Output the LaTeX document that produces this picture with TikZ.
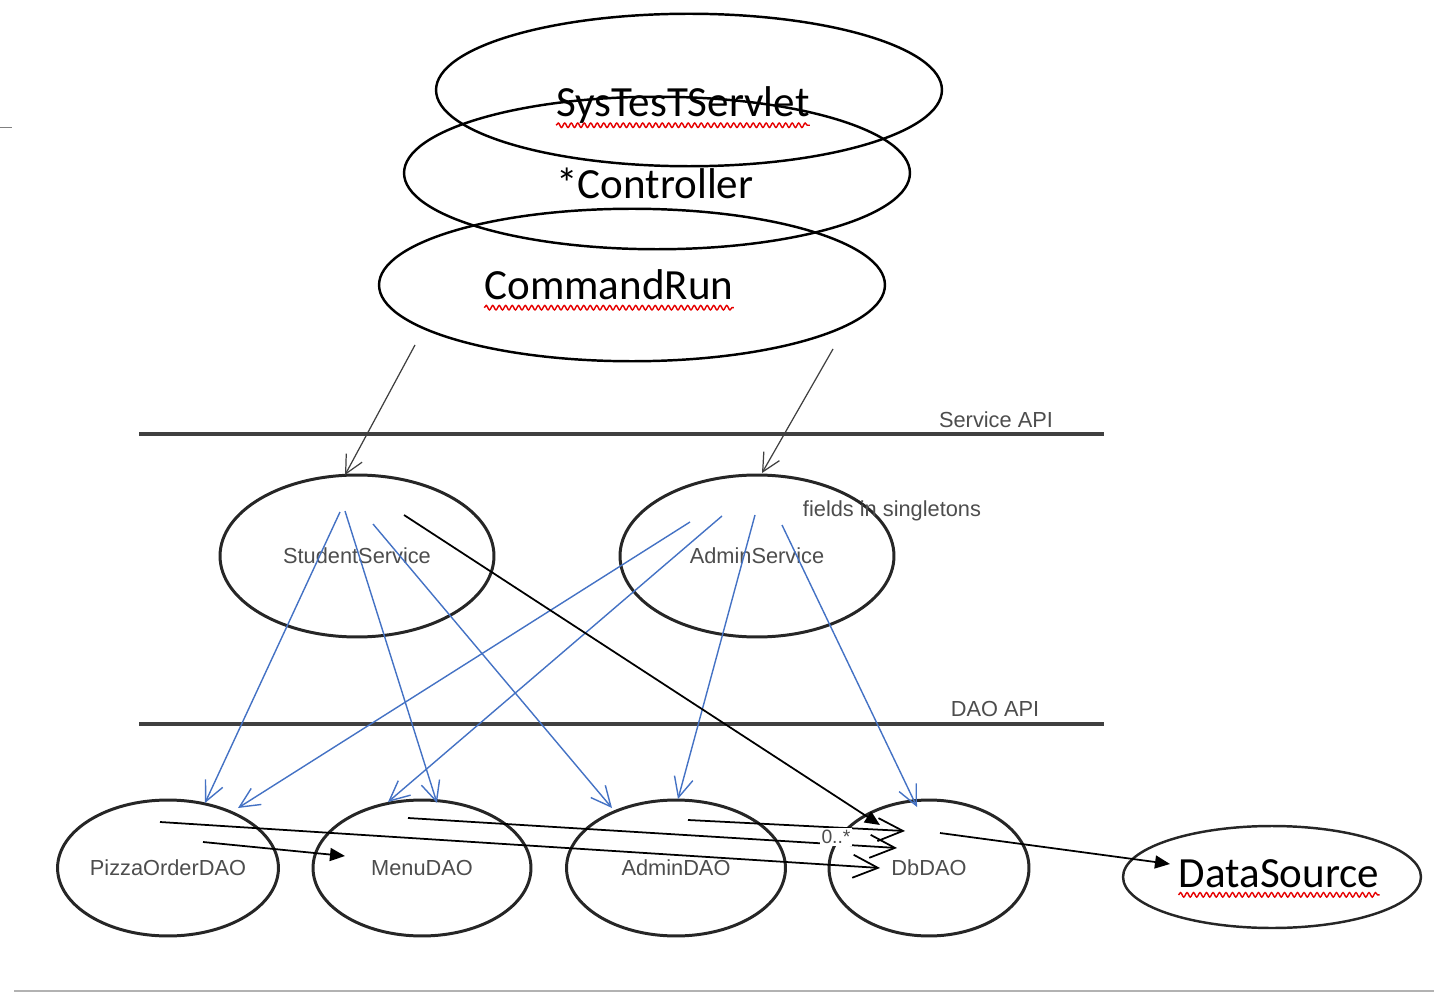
\documentclass[tikz,border=0pt]{standalone}
\usepackage{fontspec}
\setmainfont{Carlito}
\newfontfamily\arialfont{Liberation Sans}
\usetikzlibrary{shapes.geometric,arrows.meta,calc,decorations.pathmorphing}
\definecolor{umlblue}{HTML}{4472C4}
\definecolor{labelgray}{HTML}{4D4D4D}

\begin{document}
\begin{tikzpicture}[x=0.02cm, y=-0.02cm,
  every node/.style={inner sep=0pt},
  bigoval/.style={ellipse, draw, line width=1.4pt, minimum width=10.12cm, minimum height=3.05cm},
  oval/.style={ellipse, draw, line width=1.7pt, black!85},
  daooval/.style={oval, minimum width=4.4cm, minimum height=2.72cm, smalltext},
  bigtext/.style={font=\fontsize{24.5}{29}\selectfont},
  smalltext/.style={font=\arialfont\fontsize{12.4}{15}\selectfont, text=labelgray},
  apiline/.style={line width=2.2pt, black!75},
  callarrow/.style={-{Straight Barb[length=3.6mm, width=3.6mm]}, line width=0.7pt, black!75},
  blueedge/.style={-{Straight Barb[length=4mm, width=3.8mm]}, line width=0.8pt, umlblue},
  solidarrow/.style={-{Triangle[length=3mm, width=2.6mm]}, line width=1pt},
  manyarrow/.style={-{Straight Barb[length=5mm, width=4.6mm]}, line width=1pt},
  squiggle/.style={red!90!black, line width=0.8pt, decorate, decoration={snake, amplitude=0.45mm, segment length=1.3mm}}]
\useasboundingbox (0,0) rectangle (1434,993);
\node[bigoval] (servlet) at (689,90) {};
\node[bigoval] (ctrl) at (657,173) {};
\node[bigoval] (cmdrun) at (632,285) {};
\node[bigtext] (servletT) at (683,105) {SysTesTServlet};
\node[bigtext] (ctrlT) at (655,183) {*Controller};
\node[bigtext] (cmdrunT) at (609,285) {CommandRun};
\draw[squiggle] ([yshift=-5pt]servletT.base west) -- ([yshift=-5pt]servletT.base east);
\draw[squiggle] ([yshift=-4.5pt]cmdrunT.base west) -- ([yshift=-4.5pt]cmdrunT.base east);
\coordinate (sapiL) at (139,434);
\coordinate (sapiR) at (1104,434);
\coordinate (dapiL) at (139,724);
\coordinate (dapiR) at (1104,724);
\draw[apiline] (sapiL) -- (sapiR);
\draw[apiline] (dapiL) -- (dapiR);
\node[smalltext] (sapiT) at (996,420) {Service API};
\node[smalltext] (dapiT) at (995,709) {DAO API};
\node[oval, minimum width=5.48cm, minimum height=3.24cm, smalltext] (student) at (357,556) {StudentService};
\node[oval, minimum width=5.48cm, minimum height=3.24cm, smalltext] (admin) at (757,556) {AdminService};
\node[smalltext] (fields) at (892,511) {fields in singletons};
\node[daooval] (pizza) at (168,868) {PizzaOrderDAO};
\node[daooval, minimum width=4.36cm] (menu) at (422,868) {MenuDAO};
\node[daooval, minimum width=4.38cm] (admindao) at (676,868) {AdminDAO};
\node[daooval, minimum width=4cm] (dbdao) at (929,868) {DbDAO};
\node[oval, line width=1.4pt, minimum width=5.96cm, minimum height=2.04cm] (source) at (1272,877) {};
\node[bigtext] (sourceT) at (1279,874) {DataSource};
\draw[squiggle] ([yshift=-4pt]sourceT.base west) -- ([yshift=-4pt]sourceT.base east);
\draw[callarrow] ($(cmdrun)+(-217,60)$) -- ($(student)+(-12,-81)$);
\draw[callarrow] ($(cmdrun)+(201,64)$) -- ($(admin)+(5,-83)$);
\draw[blueedge] ($(student)+(-17,-44)$) -- ($(pizza)+(37,-65)$);
\draw[blueedge] ($(student)+(-12,-45)$) -- ($(menu)+(15,-65)$);
\draw[blueedge] ($(student)+(16,-32)$) -- ($(admindao)+(-64,-60)$);
\draw[blueedge] ($(admin)+(-67,-34)$) -- ($(pizza)+(70,-60)$);
\draw[blueedge] ($(admin)+(-35,-40)$) -- ($(menu)+(-34,-66)$);
\draw[blueedge] ($(admin)+(-2,-41)$) -- ($(admindao)+(2,-69)$);
\draw[blueedge] ($(admin)+(25,-31)$) -- ($(dbdao)+(-12,-61)$);
\draw[solidarrow] ($(student)+(47,-41)$) -- ($(dbdao)+(-49,-43)$);
\draw[solidarrow] ($(pizza)+(35,-26)$) -- ($(menu)+(-77,-12)$);
\draw[manyarrow] ($(pizza)+(-8,-46)$) -- ($(dbdao)+(-49,0)$);
\draw[manyarrow] ($(menu)+(-14,-50)$) -- ($(dbdao)+(-32,-20)$);
\draw[manyarrow] ($(admindao)+(12,-48)$) -- ($(dbdao)+(-24,-37)$);
\draw[solidarrow] ($(dbdao)+(11,-35)$) -- ($(source)+(-102,-13)$);
\node[smalltext, font=\arialfont\fontsize{11}{13}\selectfont, fill=white, inner sep=1pt] (mult) at (836,837) {0..*};
\coordinate (tickL) at (0,127);
\coordinate (tickR) at (12,127);
\draw[black!50, line width=0.5pt] (tickL) -- (tickR);
\coordinate (pageL) at (14,991);
\coordinate (pageR) at (1434,991);
\draw[black!30, line width=0.7pt] (pageL) -- (pageR);
\end{tikzpicture}
\end{document}
